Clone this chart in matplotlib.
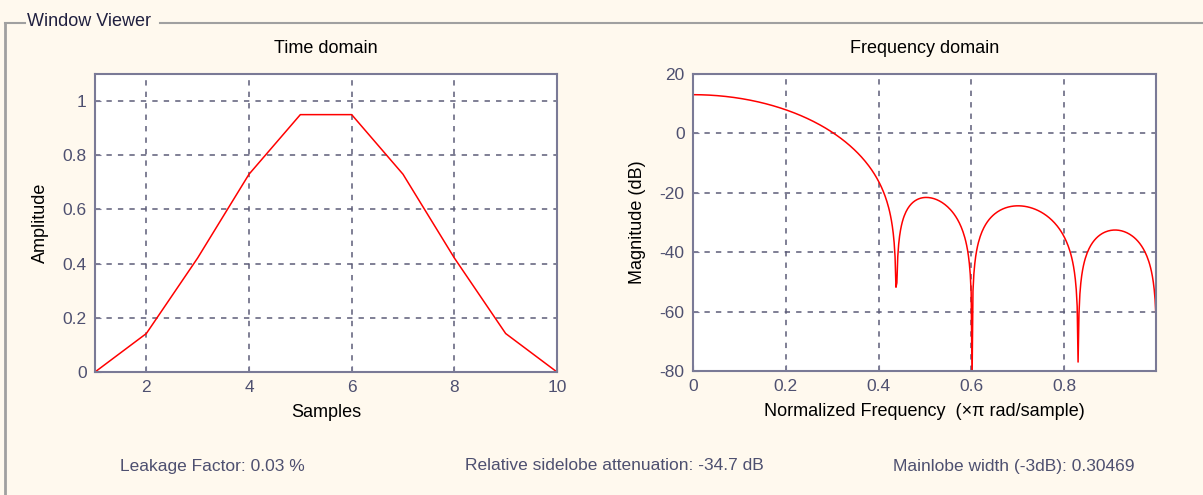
import numpy as np
import matplotlib
matplotlib.use("Agg")
import matplotlib.pyplot as plt
from matplotlib.lines import Line2D

plt.rcParams['font.family'] = ['Liberation Sans Narrow', 'Liberation Sans', 'DejaVu Sans']
plt.rcParams['axes.unicode_minus'] = False

# window samples (10-point Bartlett-Hann shape)
muestras = np.arange(1, 11)
ventana = [0.0, 0.142, 0.421, 0.730, 0.950, 0.950, 0.730, 0.421, 0.142, 0.0]

# spectrum of those samples (what the frequency plot shows), 512 points
nfft = 1024
espectro = np.fft.fft(ventana, nfft)[:nfft // 2]
freq = np.arange(nfft // 2) / (nfft // 2)
mag_db = 20 * np.log10(np.abs(espectro) + 1e-12)

textos_pie = ["Leakage Factor: 0.03 %",
              "Relative sidelobe attenuation: -34.7 dB",
              "Mainlobe width (-3dB): 0.30469"]

fondo = "#fff9ee"
gris_eje = "#7a7a96"
gris_txt = "#4e5070"
gris_rejilla = "#5c5c78"

fig = plt.figure(figsize=(12.03, 4.95), dpi=100, facecolor=fondo)

# group box frame
fig.add_artist(Line2D([5/1203, 5/1203], [0, 1 - 23/495], color="#a0a0a0", lw=2))
fig.add_artist(Line2D([5/1203, 25/1203], [1 - 23/495] * 2, color="#a0a0a0", lw=1.5))
fig.add_artist(Line2D([160/1203, 1], [1 - 23/495] * 2, color="#a0a0a0", lw=1.5))
fig.text(27/1203, 1 - 21/495, "Window Viewer", fontsize=13, color="#202040",
         va="center", ha="left")


def estilo(ax):
    ax.set_facecolor("white")
    for s in ax.spines.values():
        s.set_color(gris_eje)
        s.set_linewidth(1.5)
    ax.tick_params(direction="in", length=4, color=gris_eje, labelcolor=gris_txt,
                   labelsize=12.5, pad=6)
    ax.grid(True, linestyle=(0, (3.5, 4)), color=gris_rejilla, linewidth=1.1)


ax1 = fig.add_axes([95/1203, 1 - 372/495, 462/1203, 298/495])
ax1.plot(muestras, ventana, color="red", lw=1.1)
ax1.set_xlim(1, 10)
ax1.set_ylim(0, 1.1)
ax1.set_xticks([2, 4, 6, 8, 10])
ax1.set_yticks([0, 0.2, 0.4, 0.6, 0.8, 1])
ax1.set_yticklabels(["0", "0.2", "0.4", "0.6", "0.8", "1"])
estilo(ax1)
ax1.set_title("Time domain", fontsize=13, color="#000000", pad=15)
ax1.set_xlabel("Samples", fontsize=13, labelpad=6)
ax1.set_ylabel("Amplitude", fontsize=13, labelpad=10)

ax2 = fig.add_axes([693/1203, 1 - 371/495, 463/1203, 297/495])
ax2.plot(freq, mag_db, color="red", lw=1.1)
ax2.set_xlim(0, freq[-1])
ax2.set_ylim(-80, 20)
ax2.set_xticks([0, 0.2, 0.4, 0.6, 0.8])
ax2.set_xticklabels(["0", "0.2", "0.4", "0.6", "0.8"])
ax2.set_yticks([-80, -60, -40, -20, 0, 20])
estilo(ax2)
ax2.set_title("Frequency domain", fontsize=13, color="#000000", pad=15)
ax2.set_xlabel("Normalized Frequency  (\u00d7\u03c0 rad/sample)", fontsize=13, labelpad=6)
ax2.set_ylabel("Magnitude (dB)", fontsize=13, labelpad=10)

for x, t in zip([120, 465, 893], textos_pie):
    fig.text(x/1203, 1 - 466/495, t, fontsize=12.5, color=gris_txt, va="center", ha="left")

fig.savefig("out.png", dpi=100, facecolor=fondo)
